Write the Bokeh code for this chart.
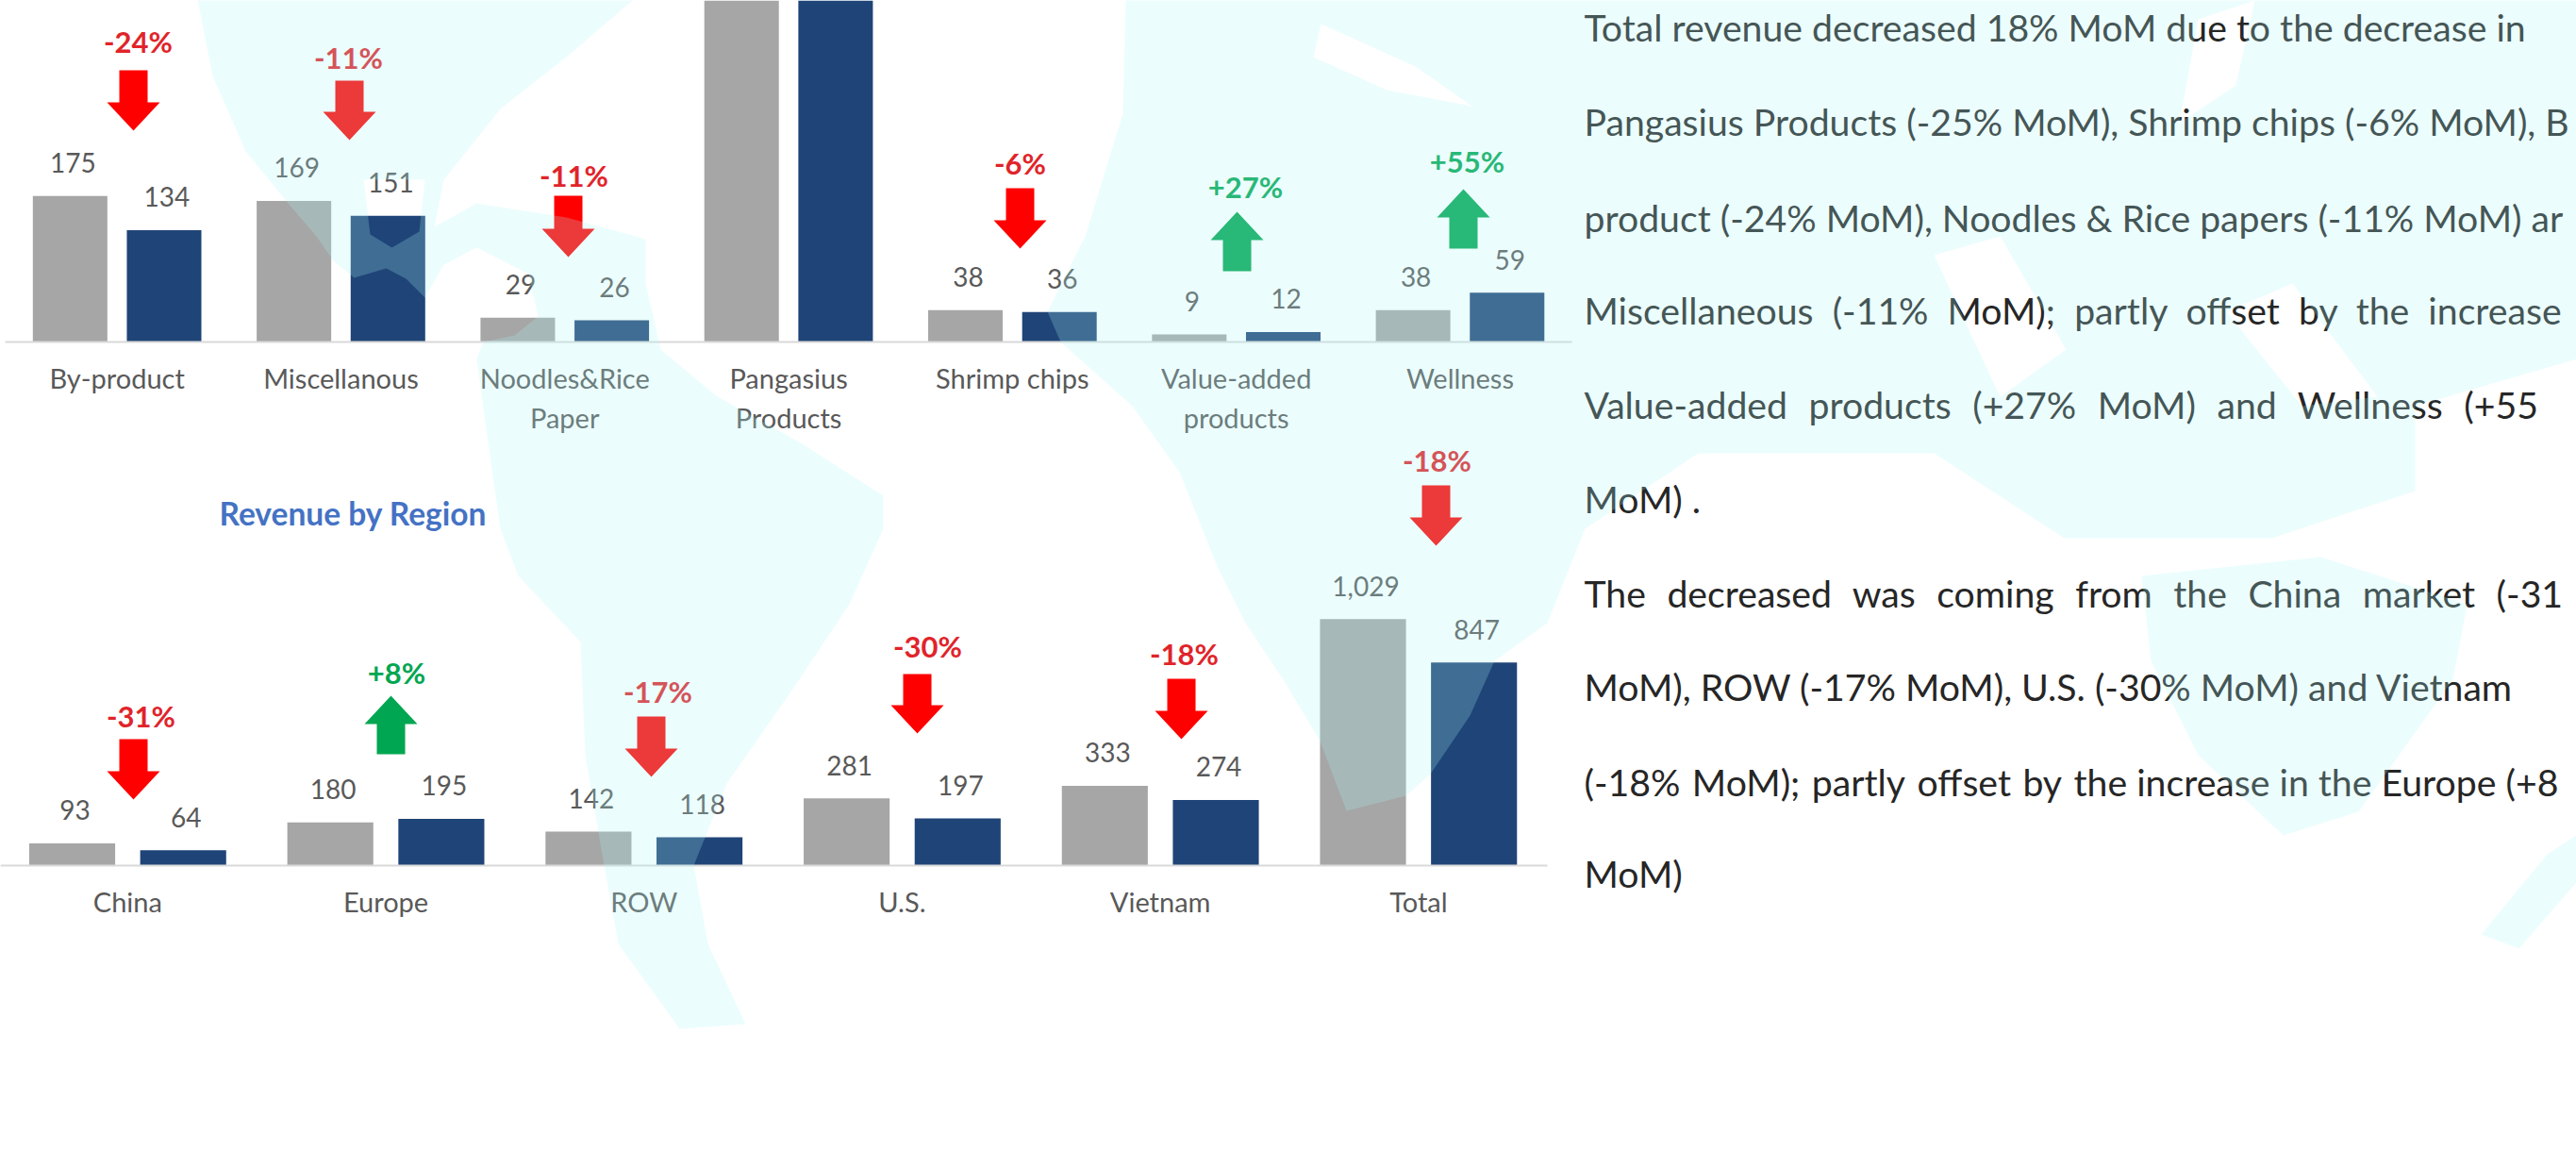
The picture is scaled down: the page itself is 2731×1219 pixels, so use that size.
from bokeh.embed import file_html
from bokeh.resources import INLINE
from bokeh.plotting import figure
from bokeh.models import Range1d, LinearAxis, FixedTicker, ColumnDataSource
from bokeh.core.properties import value

# ---------- data ----------
prod_cats = ["By-product", "Miscellanous", "Noodles&Rice\nPaper", "Pangasius\nProducts",
             "Shrimp chips", "Value-added\nproducts", "Wellness"]
prod_prev = [175, 169, 29, 571, 38, 9, 38]
prod_curr = [134, 151, 26, 429, 36, 12, 59]
prod_show = [True, True, True, False, True, True, True]
prod_delta = ["-24%", "-11%", "-11%", None, "-6%", "+27%", "+55%"]

reg_cats = ["China", "Europe", "ROW", "U.S.", "Vietnam", "Total"]
reg_prev = [93, 180, 142, 281, 333, 1029]
reg_curr = [64, 195, 118, 197, 274, 847]
reg_delta = ["-31%", "+8%", "-17%", "-30%", "-18%", "-18%"]

title2 = "Revenue by Region"
NB, HAIR = "\u00a0", "\u200a"
para_lines = [
    "Total revenue decreased 18% MoM due to the decrease in",
    "Pangasius Products (-25% MoM), Shrimp chips (-6% MoM), B",
    "product (-24% MoM), Noodles & Rice papers (-11% MoM) ar",
    "Miscellaneous (-11% MoM); partly offset by the increase".replace(" ", NB + " "),
    "Value-added products (+27% MoM) and Wellness (+55".replace(" ", NB + HAIR + " "),
    "MoM) .",
    "The decreased was coming from the China market (-31".replace(" ", NB + HAIR + " "),
    "MoM), ROW (-17% MoM), U.S. (-30% MoM) and Vietnam",
    "(-18% MoM); partly offset by the increase in the Europe (+8".replace(" ", HAIR + " ", 5),
    "MoM)",
]

# ---------- layout (page pixels) ----------
W, H = 2731, 1219
FONT = value("Lato")
GREY, NAVY = "#a6a6a6", "#1f4477"
TXT = "#595959"
RED, GREEN = "#ff0000", "#00a651"
LAB_RED, LAB_GREEN = "#e0242a", "#00a651"

# category axis geometry: (left px, px per category), value axis: (baseline px, px per unit)
top_geo = dict(x0=5.0, pitch=237.3, base=362.0, scale=0.885, dodge=0.21)
bot_geo = dict(x0=-2.0, pitch=273.7, base=917.0, scale=0.254, dodge=0.215)

# arrows: centre x, tail y, tip y; labels: centre x, centre y
top_arrows = [(141, 74, 138), (370, 85, 148), (602, 207, 272), None,
              (1081, 199, 263), (1311, 287, 224), (1551, 263, 200)]
top_lab = [(146, 43), (369, 60), (608, 185), None, (1081, 172), (1320, 197), (1555, 170)]
bot_arrows = [(141, 783, 847), (414, 799, 737), (690, 759, 823),
              (972, 714, 777), (1252, 719, 783), (1522, 514, 578)]
bot_lab = [(149, 758), (420, 712), (697, 732), (983, 684), (1255, 692), (1523, 487)]

para_x = 1679
para_y = [28, 128, 230, 328, 428, 528, 628, 727, 828, 925]

# light world-map watermark, in page pixels (outer outline followed by holes)
map_shapes = [
    [[(209,0),(670,0),(600,60),(530,115),(470,190),(460,240),(505,215),(600,230),(684,253),(684,300),
      (700,370),(760,420),(850,470),(936,525),(936,560),(900,640),(840,730),(770,830),(735,917),
      (750,1000),(790,1085),(720,1090),(655,1000),(640,917),(620,800),(615,680),(549,610),(530,560),
      (514,447),(505,380),(512,362),(545,355),(570,335),(560,290),(505,262),(470,280),(450,315),
      (430,295),(409,284),(375,294),(353,276),(335,250),(305,215),(260,160),(225,80)],
     [(385,190),(450,190),(444,245),(415,262),(392,248)]],
    [[(1193,0),(2731,0),(2731,380),(2560,430),(2560,520),(2408,570),(2188,570),(2050,480),(1800,480),
      (1680,560),(1660,610),(1640,660),(1584,700),(1558,758),(1516,820),(1490,843),(1427,859),
      (1399,785),(1360,720),(1320,660),(1290,600),(1250,500),(1200,430),(1124,362),(1110,330),
      (1150,250),(1190,120)],
     [(1400,25),(1500,70),(1560,112),(1470,95),(1392,60)],
     [(2330,20),(2390,0),(2370,90),(2310,130)],
     [(2050,270),(2120,250),(2190,370),(2120,420)],
     [(2360,330),(2430,300),(2520,420),(2440,430)]],
    [[(2270,610),(2460,590),(2615,640),(2600,720),(2500,860),(2420,885),(2330,800),(2280,700)]],
    [[(2630,990),(2700,905),(2731,885),(2731,935),(2670,1005)]],
]

# ---------- figure: default ranges are reference page pixels ----------
p = figure(width=W, height=H, x_range=Range1d(0, W), y_range=Range1d(H, 0),
           x_axis_type=None, y_axis_type=None, toolbar_location=None, output_backend="svg",
           min_border=0, outline_line_color=None, background_fill_color="white")
p.grid.visible = False


def add_chart(tag, cats, prev, curr, geo, show=None):
    n = len(cats)
    xn, yn = tag + "_x", tag + "_y"
    p.extra_x_ranges[xn] = Range1d(-geo["x0"] / geo["pitch"], (W - geo["x0"]) / geo["pitch"])
    p.extra_y_ranges[yn] = Range1d((geo["base"] - H) / geo["scale"], geo["base"] / geo["scale"])
    idx = list(range(n))
    show = show or [True] * n
    for vals, col, sgn in ((prev, GREY, -1), (curr, NAVY, 1)):
        xs = [i + 0.5 + sgn * geo["dodge"] for i in idx]
        p.vbar(x=xs, top=vals, bottom=0, width=0.333, color=col, line_color=None,
               x_range_name=xn, y_range_name=yn)
        src = ColumnDataSource(dict(x=[x for x, s in zip(xs, show) if s],
                                    y=[v for v, s in zip(vals, show) if s],
                                    t=[f"{v:,}" for v, s in zip(vals, show) if s]))
        p.text("x", "y", text="t", source=src, text_font=FONT, text_font_size="28px",
               text_color=TXT, text_align="center", text_baseline="alphabetic",
               x_offset=3, y_offset=-35, x_range_name=xn, y_range_name=yn)
    ax = LinearAxis(x_range_name=xn, y_range_name=yn, fixed_location=0,
                    ticker=FixedTicker(ticks=[i + 0.5 for i in idx]),
                    major_label_overrides={i + 0.5: c for i, c in zip(idx, cats)},
                    major_tick_line_color=None, minor_tick_line_color=None,
                    axis_line_color="#d9d9d9", axis_line_width=2, bounds=(0, n),
                    major_label_text_font="Lato", major_label_text_font_size="29px",
                    major_label_text_color=TXT, major_label_standoff=14)
    p.add_layout(ax, "below")


add_chart("top", prod_cats, prod_prev, prod_curr, top_geo, prod_show)
add_chart("bot", reg_cats, reg_prev, reg_curr, bot_geo)


def arrow_xy(cx, tail, tip):
    d = 1 if tip > tail else -1
    neck = tip - d * 30
    return ([cx-15, cx+15, cx+15, cx+28, cx, cx-28, cx-15],
            [tail, tail, neck, neck, tip, neck, neck])


for arrows, labs, texts in ((top_arrows, top_lab, prod_delta), (bot_arrows, bot_lab, reg_delta)):
    for a, l, t in zip(arrows, labs, texts):
        if a is None:
            continue
        up = t.startswith("+")
        xs, ys = arrow_xy(*a)
        p.patch(xs, ys, fill_color=GREEN if up else RED, line_color=None)
        p.text([l[0]], [l[1]], text=[t], text_font=FONT, text_font_style="bold",
               text_font_size="31px", text_color=LAB_GREEN if up else LAB_RED,
               text_align="center", text_baseline="middle")

p.text([232], [543], text=[title2], text_font=FONT, text_font_style="bold", text_font_size="33.5px",
       text_color="#4472c4", text_baseline="middle")

p.text([para_x] * len(para_lines), para_y, text=para_lines, text_font=FONT, text_font_size="39.2px",
       text_color="#262626", text_baseline="middle")

# watermark drawn over everything, as in the reference
mx = [[[[pt[0] for pt in ring] for ring in shape]] for shape in map_shapes]
my = [[[[pt[1] for pt in ring] for ring in shape]] for shape in map_shapes]
p.multi_polygons(mx, my, fill_color="#acf6f6", fill_alpha=0.23, line_color=None, level="overlay")

open("out.html", "w").write(file_html(p, INLINE))
